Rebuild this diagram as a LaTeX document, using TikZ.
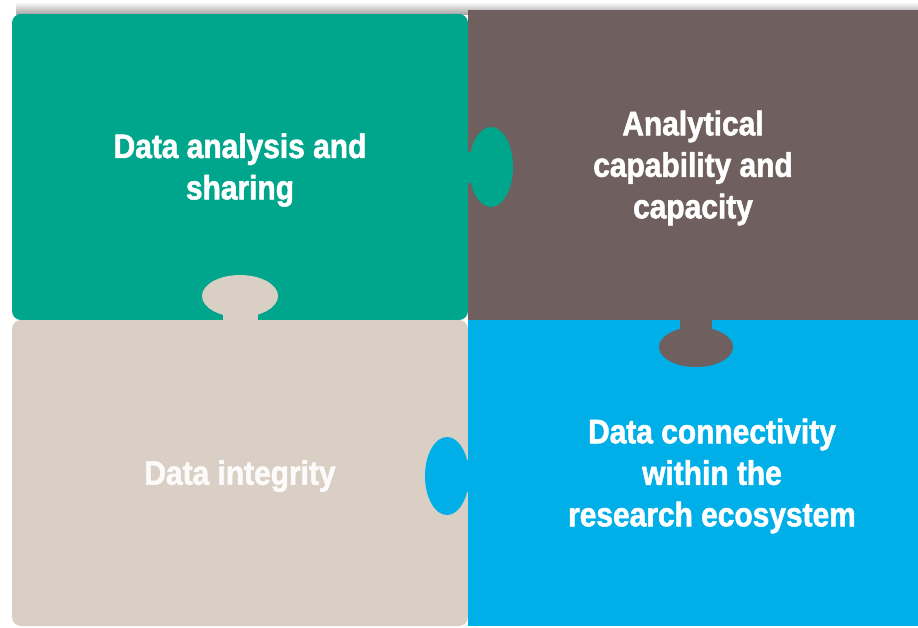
\documentclass[tikz,border=0pt]{standalone}
\usepackage{fontspec}
\newfontfamily\piecefont{Liberation Sans}[FakeStretch=0.88,FakeBold=1.6]
\usetikzlibrary{positioning}

\definecolor{pgreen}{RGB}{0,166,140}
\definecolor{pbrown}{RGB}{111,95,94}
\definecolor{pbeige}{RGB}{217,207,197}
\definecolor{pblue}{RGB}{0,174,232}

\begin{document}
\begin{tikzpicture}[x=1pt,y=-1pt,
    piece/.style={rectangle,inner sep=0pt,minimum width=456pt,minimum height=306pt,
                  text=white,align=center,font=\piecefont\bfseries\fontsize{34}{41.5}\selectfont},
    outer/.style={piece,rounded corners=9pt},
    label/.style={piece,minimum size=0pt,yshift=-3pt}]
    \useasboundingbox (0,0) rectangle (918,627);
    \shade[top color=white,bottom color=black!35] (16,2) rectangle (918,14);

    \node[outer,fill=pgreen]                     (analysis)     at (240,167) {};
    \node[piece,fill=pbrown,minimum width=450pt,
          minimum height=310pt]                  (capability)   at (693,165) {};
    \node[outer,fill=pbeige]                     (integrity)    at (240,473) {};
    \node[piece,fill=pblue,minimum width=450pt]  (connectivity) at (693,473) {};

    % tabs
    \fill[pgreen] (491,167) ellipse [x radius=22,y radius=40];
    \fill[pgreen] (460,152) rectangle (482,183);
    \fill[pbeige] (240,296) ellipse [x radius=38,y radius=21];
    \fill[pbeige] (223,303) rectangle (258,326);
    \fill[pbrown] (696,347) ellipse [x radius=37,y radius=20];
    \fill[pbrown] (680,314) rectangle (712,340);
    \fill[pblue]  (447,476) ellipse [x radius=22,y radius=39];
    \fill[pblue]  (455,460) rectangle (476,492);

    \node[label] (t1) at (analysis)   {Data analysis and\\sharing};
    \node[label] (t2) at (capability) {Analytical\\capability and\\capacity};
    \node[label,text=white!92!pbeige] (t3) at (integrity) {Data integrity};
    \node[label,xshift=19pt] (t4) at (connectivity) {Data connectivity\\within the\\research ecosystem};
\end{tikzpicture}
\end{document}
